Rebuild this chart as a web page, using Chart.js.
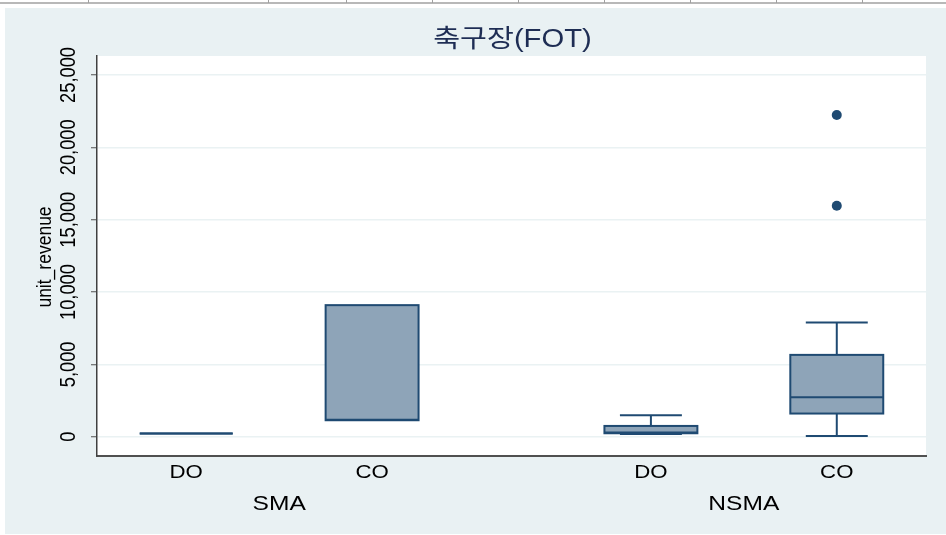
<!DOCTYPE html>
<html>
<head>
<meta charset="utf-8">
<script src="https://cdn.jsdelivr.net/npm/chart.js@4.4.1/dist/chart.umd.min.js"></script>
<style>
  html, body { margin: 0; padding: 0; background: #ffffff; }
  #wrap { position: absolute; left: 0; top: 0; width: 946px; height: 535px; }
</style>
</head>
<body>
<div id="wrap"><canvas id="c" width="946" height="535"></canvas></div>
<script>
// ---- data ----
const chartTitle = '축구장(FOT)';
const yTitle = 'unit_revenue';
const categories = ['DO', 'CO', 'DO', 'CO'];
const groups = ['SMA', 'SMA', 'NSMA', 'NSMA'];
const whiskerLow = [230, 1141, 194, 55];
const q1 = [230, 1141, 242, 1604];
const median = [230, 1175, 290, 2732];
const q3 = [230, 9094, 747, 5657];
const whiskerHigh = [230, 9094, 1487, 7898];
const outliers = [[], [], [], [22234, 15961]];
const yTicks = [0, 5000, 10000, 15000, 20000, 25000];

// category positions from group membership (gap between groups)
const groupNames = [...new Set(groups)];
const positions = categories.map((c, i) => (i + 1) + groupNames.indexOf(groups[i]) * 0.5);

const outlierPoints = [];
outliers.forEach((arr, i) => arr.forEach(v => outlierPoints.push({ x: positions[i], y: v })));

const NAVY = '#1f4a72';
const FILL = '#8ea4b8';
const BG = '#e9f1f3';
const FONT = '"Liberation Sans", Arial, "Noto Sans CJK KR", sans-serif';
const HS = 1.17; // horizontal stretch of text in the reference

function drawText(ctx, text, x, y, size, color, rotated) {
  ctx.save();
  ctx.translate(x, y);
  ctx.scale(HS, 1);
  if (rotated) ctx.rotate(-Math.PI / 2);
  ctx.font = size + 'px ' + FONT;
  ctx.fillStyle = color;
  ctx.textAlign = 'center';
  ctx.textBaseline = 'middle';
  ctx.fillText(text, 0, 0);
  ctx.restore();
}

const decoPlugin = {
  id: 'deco',
  beforeDraw(chart) {
    const ctx = chart.ctx;
    ctx.save();
    ctx.fillStyle = '#ffffff';
    ctx.fillRect(0, 0, chart.width, chart.height);
    // top strip (sheet header lines)
    ctx.strokeStyle = '#a0a0a0';
    ctx.lineWidth = 1.5;
    ctx.beginPath(); ctx.moveTo(0, 3); ctx.lineTo(chart.width, 3); ctx.stroke();
    ctx.lineWidth = 1;
    [88, 268, 346, 432, 518, 604, 690, 776, 862].forEach(x => {
      ctx.beginPath(); ctx.moveTo(x + 0.5, 0); ctx.lineTo(x + 0.5, 3); ctx.stroke();
    });
    // graph region background
    ctx.fillStyle = BG;
    ctx.fillRect(5, 8, chart.width - 5, chart.height - 9);
    // plot area
    const a = chart.chartArea;
    ctx.fillStyle = '#ffffff';
    ctx.fillRect(a.left, a.top, a.right - a.left, a.bottom - a.top);
    ctx.restore();
  },
  beforeDatasetsDraw(chart) {
    const ctx = chart.ctx;
    const xs = chart.scales.x, ys = chart.scales.y;
    ctx.save();
    ctx.lineWidth = 2;
    ctx.strokeStyle = NAVY;
    for (let i = 0; i < categories.length; i++) {
      const x = xs.getPixelForValue(positions[i]);
      const half = xs.getPixelForValue(positions[i] + 0.25) - x;
      const capHalf = xs.getPixelForValue(positions[i] + 1 / 6) - x;
      const yq1 = ys.getPixelForValue(q1[i]);
      const yq3 = ys.getPixelForValue(q3[i]);
      const ym = ys.getPixelForValue(median[i]);
      const ylo = ys.getPixelForValue(whiskerLow[i]);
      const yhi = ys.getPixelForValue(whiskerHigh[i]);
      if (whiskerHigh[i] > q3[i]) {
        ctx.beginPath(); ctx.moveTo(x, yq3); ctx.lineTo(x, yhi); ctx.stroke();
        ctx.beginPath(); ctx.moveTo(x - capHalf, yhi); ctx.lineTo(x + capHalf, yhi); ctx.stroke();
      }
      if (whiskerLow[i] < q1[i]) {
        ctx.beginPath(); ctx.moveTo(x, yq1); ctx.lineTo(x, ylo); ctx.stroke();
        ctx.beginPath(); ctx.moveTo(x - capHalf, ylo); ctx.lineTo(x + capHalf, ylo); ctx.stroke();
      }
      ctx.fillStyle = FILL;
      ctx.fillRect(x - half, yq3, 2 * half, yq1 - yq3);
      ctx.strokeRect(x - half, yq3, 2 * half, yq1 - yq3);
      ctx.beginPath(); ctx.moveTo(x - half, ym); ctx.lineTo(x + half, ym); ctx.stroke();
    }
    ctx.restore();
  },
  afterDraw(chart) {
    const ctx = chart.ctx;
    const xs = chart.scales.x, ys = chart.scales.y;
    const a = chart.chartArea;
    // title
    drawText(ctx, chartTitle, (a.left + a.right) / 2 + 1, 40, 25, '#1e2d54', false);
    // y axis title
    drawText(ctx, yTitle, 45, (a.top + a.bottom) / 2 + 1, 17.5, '#000000', true);
    // rotated y tick labels
    yTicks.forEach(v => {
      drawText(ctx, v.toLocaleString('en-US'), 69, ys.getPixelForValue(v), 18.3, '#000000', true);
    });
    // x category labels
    categories.forEach((c, i) => {
      drawText(ctx, c, xs.getPixelForValue(positions[i]), 473, 19, '#000000', false);
    });
    // group labels
    groupNames.forEach(g => {
      const ps = positions.filter((p, i) => groups[i] === g);
      const mid = ps.reduce((s, p) => s + p, 0) / ps.length;
      drawText(ctx, g, xs.getPixelForValue(mid), 504, 21, '#000000', false);
    });
  }
};

new Chart(document.getElementById('c'), {
  type: 'scatter',
  data: {
    datasets: [{
      data: outlierPoints,
      pointRadius: 5,
      pointHoverRadius: 5,
      backgroundColor: NAVY,
      borderWidth: 0,
      clip: false
    }]
  },
  options: {
    responsive: false,
    animation: false,
    devicePixelRatio: 1,
    layout: { padding: { left: 0, top: 56, right: 20, bottom: 0 } },
    plugins: { legend: { display: false }, tooltip: { enabled: false }, title: { display: false } },
    scales: {
      x: {
        type: 'linear',
        min: 0.52,
        max: 4.98,
        afterBuildTicks: s => { s.ticks = positions.map(v => ({ value: v })); },
        afterFit: s => { s.height = 79; },
        grid: { display: false, drawTicks: false },
        border: { display: true, color: '#505050', width: 2 },
        ticks: { display: false }
      },
      y: {
        type: 'linear',
        min: -1330,
        max: 26310,
        afterBuildTicks: s => { s.ticks = yTicks.map(v => ({ value: v })); },
        afterFit: s => { s.width = 97; },
        grid: { color: '#eaf2f3', lineWidth: 1.5, tickLength: 6, tickColor: '#505050', tickWidth: 1 },
        border: { display: true, color: '#404040', width: 1.5 },
        ticks: { display: true, color: 'rgba(0,0,0,0)', font: { size: 16 } },
        title: { display: false }
      }
    }
  },
  plugins: [decoPlugin]
});
</script>
</body>
</html>
